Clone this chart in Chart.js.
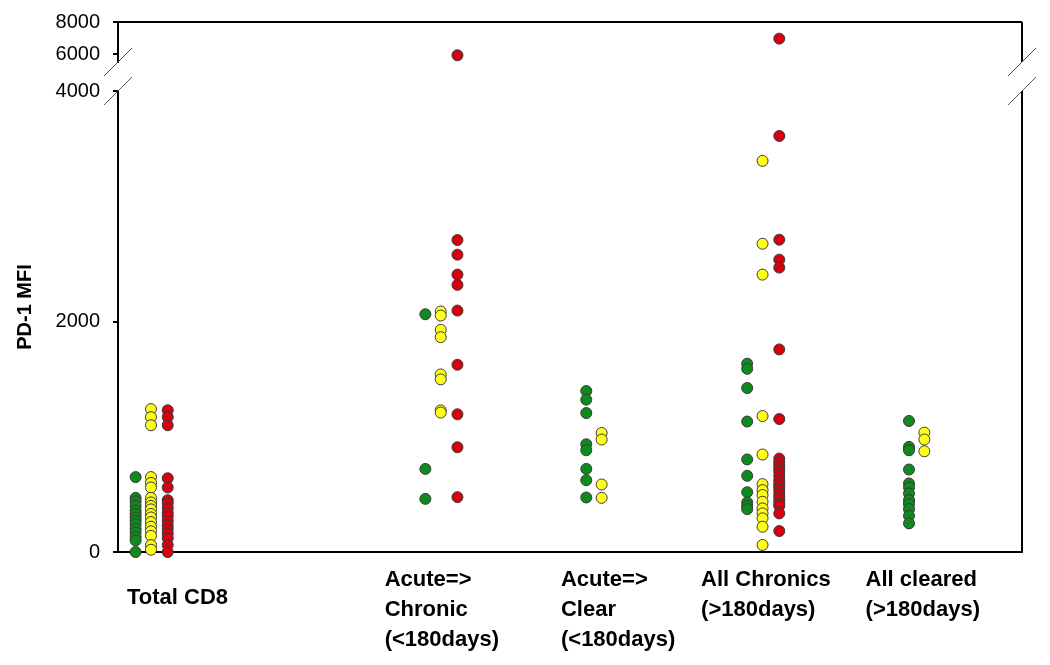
<!DOCTYPE html>
<html><head><meta charset="utf-8">
<script src="https://cdn.jsdelivr.net/npm/chart.js@4.4.1/dist/chart.umd.min.js"></script>
<style>html,body{margin:0;padding:0;background:#fff}canvas{display:block}</style>
</head><body>
<canvas id="c" width="1050" height="665"></canvas>
<script>
// ---- data ----
const categories = [
  ['Total CD8'],
  ['Acute=>', 'Chronic', '(<180days)'],
  ['Acute=>', 'Clear', '(<180days)'],
  ['All Chronics', '(>180days)'],
  ['All cleared', '(>180days)']
];
const groupX = [3.65, 35.7, 53.5, 71.3, 89.2];      // category centres on the x scale
const labelX = [1.0, 29.5, 49.0, 64.5, 82.7];        // where each category label starts
const seriesOffset = { green: -1.7, yellow: 0, red: 1.85 };
const lowerTicks = [0, 2000, 4000];
const upperTicks = [6000, 8000];
const lowerRange = [0, 4252];
const upperRange = [5500, 8000];

const greenValues = [
  [650, 470, 440, 400, 360, 330, 300, 270, 240, 200, 170, 130, 100, 0],
  [2063, 721, 461],
  [1397, 1322, 1206, 935, 883, 721, 623, 473],
  [1634, 1590, 1423, 1132, 803, 661, 519, 430, 400, 372],
  [1137, 912, 883, 716, 595, 560, 508, 450, 416, 372, 314, 248]
];
const yellowValues = [
  [1240, 1170, 1100, 650, 600, 560, 470, 430, 400, 370, 330, 300, 260, 220, 180, 140, 60, 20],
  [2087, 2052, 1928, 1864, 1541, 1498, 1229, 1210],
  [1033, 976, 586, 470],
  [3394, 2675, 2407, 1180, 846, 589, 537, 494, 436, 378, 335, 292, 219, 61],
  [1036, 976, 874]
];
const redValues = [
  [1230, 1170, 1100, 640, 560, 450, 420, 380, 340, 310, 270, 230, 200, 160, 120, 60, 0],
  [5920, 2707, 2580, 2407, 2318, 2095, 1625, 1195, 909, 476],
  [],
  [6960, 3610, 2710, 2537, 2468, 1758, 1154, 811, 780, 753, 720, 695, 660, 623, 590, 565, 540, 508, 480, 450, 420, 400, 335, 182],
  []
];

// ---- styling ----
const FAMILY = '"Liberation Sans", Arial, sans-serif';
const colors = { green: '#0f8a1e', yellow: '#ffff1a', red: '#d8000f' };
const series = { green: greenValues, yellow: yellowValues, red: redValues };

function points(vals, off, upper) {
  const out = [];
  vals.forEach((arr, g) => arr.forEach(v => {
    const isUpper = v > lowerRange[1];
    if (isUpper === upper) out.push({ x: groupX[g] + off, y: v });
  }));
  return out;
}

const datasets = [];
for (const name of ['green', 'yellow', 'red']) {
  for (const upper of [false, true]) {
    const data = points(series[name], seriesOffset[name], upper);
    if (!data.length) continue;
    datasets.push({
      label: name, data, yAxisID: upper ? 'y2' : 'y',
      backgroundColor: colors[name], borderColor: '#3a3a3a', borderWidth: 1,
      pointRadius: 5.5, pointHoverRadius: 5.5, showLine: false, clip: false
    });
  }
}

const yTickCommon = { padding: 13, autoSkip: false, color: '#000', font: { family: FAMILY, size: 20 }, callback: v => String(v) };
const yGrid = { drawOnChartArea: false, drawTicks: true, tickLength: 5, color: '#000', lineWidth: 2 };
const yBorder = { display: true, color: '#000', width: 2 };
const yFit = s => { s.width = 118; s.paddingTop = 0; s.paddingBottom = 0; };

const breakPlugin = {
  id: 'breaks',
  afterDraw(chart) {
    const { ctx, chartArea: { left, right, top, bottom }, scales: { y, y2 } } = chart;
    const gTop = y2.bottom;
    const gBot = y.getPixelForValue(lowerTicks[lowerTicks.length - 1]);
    ctx.save();
    ctx.fillStyle = '#fff';
    ctx.fillRect(left - 4, gTop + 1, 8, gBot - gTop - 2);
    ctx.strokeStyle = '#000'; ctx.lineWidth = 2;
    ctx.beginPath();
    ctx.moveTo(left, top); ctx.lineTo(right, top);
    ctx.moveTo(right, top); ctx.lineTo(right, gTop);
    ctx.moveTo(right, gBot); ctx.lineTo(right, bottom);
    ctx.stroke();
    ctx.strokeStyle = '#555'; ctx.lineWidth = 1;
    ctx.beginPath();
    for (const xx of [left, right]) for (const yy of [gTop, gBot]) {
      ctx.moveTo(xx - 14, yy + 14); ctx.lineTo(xx + 14, yy - 14);
    }
    ctx.stroke();
    ctx.restore();
  }
};

new Chart(document.getElementById('c'), {
  type: 'scatter',
  data: { datasets },
  options: {
    responsive: false, animation: false, devicePixelRatio: 1,
    layout: { padding: { top: 22, right: 28, left: 0, bottom: 0 } },
    plugins: { legend: { display: false }, tooltip: { enabled: false } },
    scales: {
      x: {
        type: 'linear', min: 0, max: 100,
        afterFit: s => { s.height = 113; s.paddingLeft = 0; s.paddingRight = 0; },
        afterBuildTicks: s => { s.ticks = labelX.map(v => ({ value: v })); },
        ticks: {
          autoSkip: false, maxRotation: 0, minRotation: 0, align: 'start', padding: 13, color: '#000',
          font: ctx => ({ family: FAMILY, size: 22, weight: 'bold', lineHeight: ctx.index === 0 ? 3 : 30 / 22 }),
          callback: (v, i) => categories[i]
        },
        grid: { display: false, drawTicks: false },
        border: { display: true, color: '#000', width: 2 }
      },
      y: {
        type: 'linear', position: 'left', stack: 'ybreak', stackWeight: 490,
        min: lowerRange[0], max: lowerRange[1],
        afterFit: yFit,
        afterBuildTicks: s => { s.ticks = lowerTicks.map(v => ({ value: v })); },
        ticks: yTickCommon, grid: yGrid, border: yBorder,
        title: { display: true, text: 'PD-1 MFI', color: '#000', font: { family: FAMILY, size: 20, weight: 'bold' }, padding: { top: 13, bottom: 0 } }
      },
      y2: {
        type: 'linear', position: 'left', stack: 'ybreak', stackWeight: 40,
        min: upperRange[0], max: upperRange[1],
        afterFit: yFit,
        afterBuildTicks: s => { s.ticks = upperTicks.map(v => ({ value: v })); },
        ticks: yTickCommon, grid: yGrid, border: yBorder
      }
    }
  },
  plugins: [breakPlugin]
});
</script>
</body></html>
